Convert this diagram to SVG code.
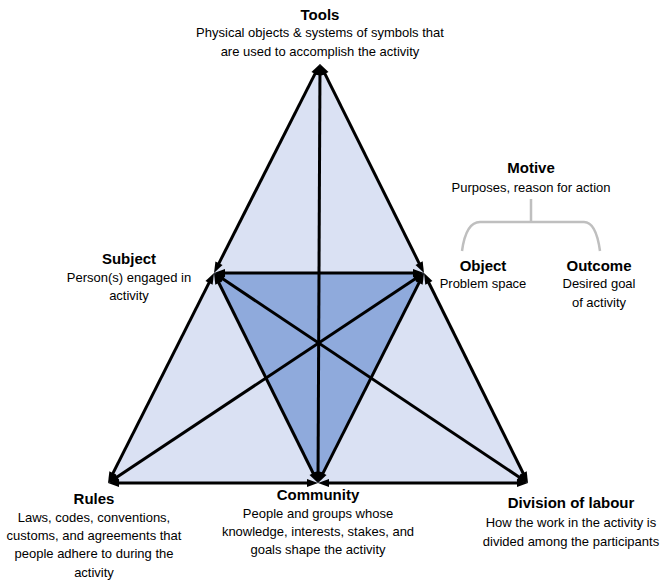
<svg xmlns="http://www.w3.org/2000/svg" width="663" height="583" viewBox="0 0 663 583">
<style>
text{font-family:"Liberation Sans",Arial,sans-serif;fill:#000;text-anchor:middle}
.t{font-size:15px;font-weight:bold}
.d{font-size:13px}
.c{stroke:#000;stroke-width:3;fill:none;marker-start:url(#ah);marker-end:url(#ah)}
.br{stroke:#BFBFBF;stroke-width:2.5;fill:none}
</style>
<defs>
<marker id="ah" markerUnits="userSpaceOnUse" markerWidth="14" markerHeight="12" viewBox="-2 -6 14 12" refX="0" refY="0" orient="auto-start-reverse">
<path d="M-1,-4 L10,0 L-1,4 z" fill="#000"/>
</marker>
</defs>
<rect width="663" height="583" fill="#fff"/>
<g id="areas">
<polygon points="320,64 108,483 528,483" fill="#DAE1F3"/>
<polygon points="214,273 424,273 318,483" fill="#8FAADC"/>
</g>
<g id="connectors">
<line class="c" x1="315.48" y1="72.92" x2="218.52" y2="264.08"/>
<line class="c" x1="209.49" y1="281.93" x2="112.51" y2="474.07"/>
<line class="c" x1="324.46" y1="72.95" x2="419.54" y2="264.05"/>
<line class="c" x1="428.44" y1="281.96" x2="523.56" y2="474.04"/>
<line class="c" x1="118" y1="483" x2="308" y2="483"/>
<line class="c" x1="328" y1="483" x2="518" y2="483"/>
<line class="c" x1="224" y1="273" x2="414" y2="273"/>
<line class="c" x1="218.44" y1="281.96" x2="313.56" y2="474.04"/>
<line class="c" x1="419.49" y1="281.93" x2="322.51" y2="474.07"/>
<line class="c" x1="319.95" y1="74" x2="318.05" y2="473"/>
<line class="c" x1="222.31" y1="278.56" x2="519.69" y2="477.44"/>
<line class="c" x1="415.67" y1="278.54" x2="116.33" y2="477.46"/>
</g>
<g id="tools">
<text class="t" x="320" y="20">Tools</text>
<text class="d" x="320" y="37">Physical objects &amp; systems of symbols that</text>
<text class="d" x="320" y="56">are used to accomplish the activity</text>
</g>
<g id="motive">
<text class="t" x="531" y="173">Motive</text>
<text class="d" x="531" y="192">Purposes, reason for action</text>
<path class="br" d="M531,199 V222 M462,251 Q466,222 480,222 H584 Q596,222 600,251"/>
</g>
<g id="subject">
<text class="t" x="129" y="264">Subject</text>
<text class="d" x="129" y="282">Person(s) engaged in</text>
<text class="d" x="129" y="300">activity</text>
</g>
<g id="object">
<text class="t" x="483" y="271">Object</text>
<text class="d" x="483" y="288">Problem space</text>
</g>
<g id="outcome">
<text class="t" x="599" y="271">Outcome</text>
<text class="d" x="599" y="288">Desired goal</text>
<text class="d" x="599" y="307">of activity</text>
</g>
<g id="rules">
<text class="t" x="94" y="504">Rules</text>
<text class="d" x="94" y="522">Laws, codes, conventions,</text>
<text class="d" x="94" y="540">customs, and agreements that</text>
<text class="d" x="94" y="558">people adhere to during the</text>
<text class="d" x="94" y="577">activity</text>
</g>
<g id="community">
<text class="t" x="318" y="500">Community</text>
<text class="d" x="318" y="518">People and groups whose</text>
<text class="d" x="318" y="536">knowledge, interests, stakes, and</text>
<text class="d" x="318" y="554">goals shape the activity</text>
</g>
<g id="division">
<text class="t" x="571" y="508">Division of labour</text>
<text class="d" x="571" y="527">How the work in the activity is</text>
<text class="d" x="571" y="546">divided among the participants</text>
</g>
</svg>
